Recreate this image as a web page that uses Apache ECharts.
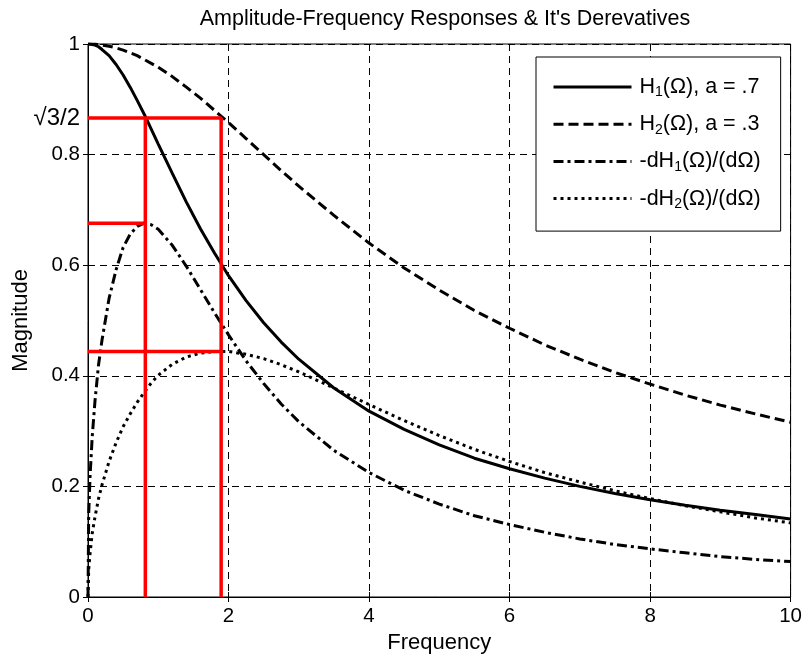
<!DOCTYPE html>
<html>
<head>
<meta charset="utf-8">
<script src="https://cdn.jsdelivr.net/npm/echarts@6/dist/echarts.min.js"></script>
<style>
  html, body { margin: 0; padding: 0; background: #fff; }
  #chart { width: 805px; height: 661px; }
</style>
</head>
<body>
<div id="chart"></div>
<script>
// Frequency samples (Ω)
const freq = [0, 0.01, 0.03, 0.06, 0.1, 0.15, 0.2, 0.3, 0.4, 0.5, 0.6, 0.7, 0.8, 0.9, 1.0,
  1.2, 1.4, 1.6, 1.8, 2.0, 2.25, 2.5, 2.75, 3, 3.5, 4, 4.5, 5, 5.5, 6, 6.5, 7, 7.5, 8,
  8.5, 9, 9.5, 10];

// H1(Ω), a = .7
const h1 = [1, 1, 1, 0.999, 0.998, 0.995, 0.990, 0.979, 0.963, 0.944, 0.922, 0.898, 0.873,
  0.846, 0.819, 0.766, 0.714, 0.666, 0.622, 0.581, 0.536, 0.496, 0.461, 0.430, 0.378,
  0.336, 0.303, 0.275, 0.251, 0.232, 0.215, 0.200, 0.187, 0.176, 0.166, 0.157, 0.149, 0.141];

// H2(Ω), a = .3
const h2 = [1, 1, 1, 1, 1, 0.999, 0.998, 0.996, 0.993, 0.989, 0.984, 0.979, 0.972, 0.965,
  0.958, 0.941, 0.922, 0.902, 0.880, 0.858, 0.829, 0.800, 0.771, 0.743, 0.690, 0.640,
  0.595, 0.555, 0.518, 0.486, 0.456, 0.430, 0.406, 0.385, 0.365, 0.347, 0.331, 0.316];

// -dH1(Ω)/(dΩ)
const dh1 = [0, 0.15, 0.22, 0.29, 0.355, 0.42, 0.465, 0.54, 0.592, 0.632, 0.656, 0.670,
  0.676, 0.673, 0.665, 0.636, 0.598, 0.556, 0.514, 0.474, 0.427, 0.386, 0.349, 0.317,
  0.265, 0.225, 0.193, 0.168, 0.147, 0.131, 0.117, 0.105, 0.095, 0.087, 0.080, 0.073,
  0.068, 0.064];

// -dH2(Ω)/(dΩ)
const dh2 = [0, 0.05, 0.08, 0.115, 0.145, 0.178, 0.203, 0.245, 0.279, 0.308, 0.331, 0.352,
  0.370, 0.387, 0.401, 0.421, 0.434, 0.441, 0.444, 0.444, 0.439, 0.431, 0.420, 0.407,
  0.378, 0.348, 0.319, 0.292, 0.267, 0.245, 0.225, 0.208, 0.192, 0.178, 0.165, 0.154,
  0.143, 0.134];

// Marker levels and frequencies (red guide lines)
const halfSqrt3 = 0.866;
const peakFreq1 = 0.816;
const peakFreq2 = 1.895;
const peakVal1 = 0.676;
const peakVal2 = 0.444;

// Axis ticks
const xTicks = [0, 2, 4, 6, 8, 10];
const yTicks = [0, 0.2, 0.4, 0.6, 0.8, 1];

const names = ['H1(Ω), a = .7', 'H2(Ω), a = .3', '-dH1(Ω)/(dΩ)', '-dH2(Ω)/(dΩ)'];
const legendRich = {
  'H1(Ω), a = .7': 'H{s|1}(Ω), a = .7',
  'H2(Ω), a = .3': 'H{s|2}(Ω), a = .3',
  '-dH1(Ω)/(dΩ)': '-dH{s|1}(Ω)/(dΩ)',
  '-dH2(Ω)/(dΩ)': '-dH{s|2}(Ω)/(dΩ)'
};

const pairs = ys => freq.map((f, i) => [f, ys[i]]);
const FONT = "'Liberation Sans', Arial, Helvetica, sans-serif";

function curve(name, ys, type) {
  return {
    name, type: 'line', data: pairs(ys), symbol: 'none', smooth: false,
    itemStyle: { color: '#000' },
    lineStyle: { color: '#000', width: 3, type, cap: 'butt' },
    z: 3
  };
}
function guide(points) {
  return {
    type: 'line', data: points, symbol: 'none', silent: true,
    lineStyle: { color: '#ff0000', width: 3.5, cap: 'butt' },
    z: 4
  };
}

const chart = echarts.init(document.getElementById('chart'), null, { renderer: 'canvas' });

const tickStyle = { show: true, inside: true, length: 5, lineStyle: { color: '#000', width: 1 } };
const gridLine = { show: true, lineStyle: { color: '#000', width: 1, type: [7, 5] } };

chart.setOption({
  animation: false,
  backgroundColor: '#fff',
  textStyle: { fontFamily: FONT },
  title: {
    text: "Amplitude-Frequency Responses & It's Derevatives",
    left: 440, top: 3, textAlign: 'center',
    textStyle: { fontFamily: FONT, fontSize: 21.5, fontWeight: 'normal', color: '#000' }
  },
  grid: { left: 88, right: 13, top: 44, bottom: 64, show: true, borderColor: '#000', borderWidth: 1, backgroundColor: '#fff' },
  legend: {
    orient: 'vertical', left: 536, top: 57,
    padding: [18, 20, 20, 16],
    itemWidth: 78, itemHeight: 24, itemGap: 12.7,
    backgroundColor: '#fff', borderColor: '#000', borderWidth: 1,
    data: names,
    itemStyle: { color: 'transparent', borderWidth: 0, opacity: 0 },
    lineStyle: { width: 3 },
    formatter: n => legendRich[n],
    textStyle: {
      fontFamily: FONT, fontSize: 21.5, color: '#000', lineHeight: 24,
      padding: [0, 0, 0, 3],
      rich: { s: { fontFamily: FONT, fontSize: 14, color: '#000', padding: [11, 0, 0, 0] } }
    }
  },
  xAxis: [{
    type: 'value', min: xTicks[0], max: xTicks[xTicks.length - 1], interval: xTicks[1] - xTicks[0],
    name: 'Frequency', nameLocation: 'middle', nameGap: 35,
    nameTextStyle: { fontFamily: FONT, fontSize: 22, color: '#000' },
    axisLine: { show: true, lineStyle: { color: '#000', width: 1 } },
    axisTick: tickStyle,
    axisLabel: { fontFamily: FONT, fontSize: 20.5, color: '#000', margin: 9 },
    splitLine: gridLine
  }, {
    type: 'value', position: 'top', min: xTicks[0], max: xTicks[xTicks.length - 1], interval: xTicks[1] - xTicks[0],
    axisLine: { show: true, lineStyle: { color: '#000', width: 1 } },
    axisTick: tickStyle, axisLabel: { show: false }, splitLine: { show: false }
  }],
  yAxis: [{
    type: 'value', min: yTicks[0], max: yTicks[yTicks.length - 1], interval: yTicks[1] - yTicks[0],
    name: 'Magnitude', nameLocation: 'middle', nameGap: 56,
    nameTextStyle: { fontFamily: FONT, fontSize: 22, color: '#000' },
    axisLine: { show: true, lineStyle: { color: '#000', width: 1 } },
    axisTick: tickStyle,
    axisLabel: { fontFamily: FONT, fontSize: 20.5, color: '#000', margin: 8 },
    splitLine: gridLine
  }, {
    type: 'value', position: 'right', min: yTicks[0], max: yTicks[yTicks.length - 1], interval: yTicks[1] - yTicks[0],
    axisLine: { show: true, lineStyle: { color: '#000', width: 1 } },
    axisTick: tickStyle, axisLabel: { show: false }, splitLine: { show: false }
  }, {
    // extra tick carrying the √3/2 label
    type: 'value', position: 'left', min: 0, max: 1, interval: halfSqrt3,
    axisLine: { show: false }, axisTick: { show: false }, splitLine: { show: false },
    axisLabel: {
      fontFamily: FONT, fontSize: 24, color: '#000', margin: 8,
      showMinLabel: false, showMaxLabel: false,
      formatter: v => (Math.abs(v - halfSqrt3) < 0.01 ? '√3/2' : '')
    }
  }],
  series: [
    curve(names[0], h1, 'solid'),
    curve(names[1], h2, [10, 5]),
    curve(names[2], dh1, [10, 4, 3, 4]),
    curve(names[3], dh2, [3, 4]),
    guide([[0, halfSqrt3], [peakFreq2, halfSqrt3], [peakFreq2, 0]]),
    guide([[peakFreq1, 0], [peakFreq1, halfSqrt3]]),
    guide([[0, peakVal1], [peakFreq1, peakVal1]]),
    guide([[0, peakVal2], [peakFreq2, peakVal2]])
  ]
});
</script>
</body>
</html>
